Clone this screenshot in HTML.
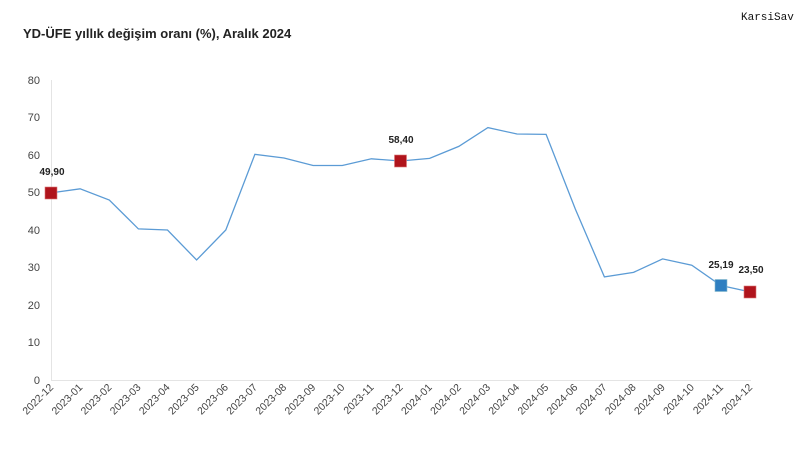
<!DOCTYPE html>
<html><head><meta charset="utf-8"><style>
html,body{margin:0;padding:0;background:#fff;}
svg{display:block;font-family:"Liberation Sans",sans-serif;}
</style></head><body>
<svg width="800" height="456" viewBox="0 0 800 456" xmlns="http://www.w3.org/2000/svg">
<rect width="800" height="456" fill="#fff"/>
<text x="23" y="38" font-size="13" font-weight="bold" fill="#222">YD-ÜFE yıllık değişim oranı (%), Aralık 2024</text>
<text x="741" y="20" font-size="11" fill="#111" font-family="Liberation Mono, monospace">KarsiSav</text>
<g font-size="11" fill="#444" text-anchor="end">
<text x="40" y="84">80</text><text x="40" y="121">70</text><text x="40" y="159">60</text><text x="40" y="196">50</text><text x="40" y="234">40</text><text x="40" y="271">30</text><text x="40" y="309">20</text><text x="40" y="346">10</text><text x="40" y="384">0</text>
</g>
<line x1="51.5" y1="80" x2="51.5" y2="380" stroke="#e4e4e4" stroke-width="1"/>
<line x1="51" y1="380.5" x2="751" y2="380.5" stroke="#e4e4e4" stroke-width="1"/>
<polyline fill="none" stroke="#5b9bd5" stroke-width="1.3" points="51,192.9 80.1,188.8 109.3,200 138.4,228.9 167.5,230 196.6,260 225.8,230 254.9,154.3 284,158 313.1,165.5 342.3,165.5 371.4,158.8 400.5,161 429.6,158.4 458.8,146.4 487.9,127.6 517,134 546.1,134.4 575.3,209 604.4,276.9 633.5,272.4 662.6,258.9 691.8,265.2 720.9,285.5 750,291.9"/>
<rect x="45" y="187" width="12" height="12" fill="#b0141c" stroke="#d77" stroke-width="0.6"/>
<rect x="394.5" y="155" width="12" height="12" fill="#b0141c" stroke="#d77" stroke-width="0.6"/>
<rect x="715" y="279.5" width="12" height="12" fill="#2f7fc1" stroke="#8bc" stroke-width="0.6"/>
<rect x="744" y="286" width="12" height="12" fill="#b0141c" stroke="#d77" stroke-width="0.6"/>
<g font-size="10" font-weight="bold" fill="#222" text-anchor="middle">
<text x="52" y="175">49,90</text>
<text x="401" y="143">58,40</text>
<text x="721" y="268">25,19</text>
<text x="751" y="273">23,50</text>
</g>
<g font-size="10.5" fill="#444" text-anchor="end">
<text transform="translate(54,388) rotate(-45)">2022-12</text>
<text transform="translate(83.1,388) rotate(-45)">2023-01</text>
<text transform="translate(112.3,388) rotate(-45)">2023-02</text>
<text transform="translate(141.4,388) rotate(-45)">2023-03</text>
<text transform="translate(170.5,388) rotate(-45)">2023-04</text>
<text transform="translate(199.6,388) rotate(-45)">2023-05</text>
<text transform="translate(228.8,388) rotate(-45)">2023-06</text>
<text transform="translate(257.9,388) rotate(-45)">2023-07</text>
<text transform="translate(287,388) rotate(-45)">2023-08</text>
<text transform="translate(316.1,388) rotate(-45)">2023-09</text>
<text transform="translate(345.3,388) rotate(-45)">2023-10</text>
<text transform="translate(374.4,388) rotate(-45)">2023-11</text>
<text transform="translate(403.5,388) rotate(-45)">2023-12</text>
<text transform="translate(432.6,388) rotate(-45)">2024-01</text>
<text transform="translate(461.8,388) rotate(-45)">2024-02</text>
<text transform="translate(490.9,388) rotate(-45)">2024-03</text>
<text transform="translate(520,388) rotate(-45)">2024-04</text>
<text transform="translate(549.1,388) rotate(-45)">2024-05</text>
<text transform="translate(578.3,388) rotate(-45)">2024-06</text>
<text transform="translate(607.4,388) rotate(-45)">2024-07</text>
<text transform="translate(636.5,388) rotate(-45)">2024-08</text>
<text transform="translate(665.6,388) rotate(-45)">2024-09</text>
<text transform="translate(694.8,388) rotate(-45)">2024-10</text>
<text transform="translate(723.9,388) rotate(-45)">2024-11</text>
<text transform="translate(753,388) rotate(-45)">2024-12</text>
</g>
</svg>
</body></html>
